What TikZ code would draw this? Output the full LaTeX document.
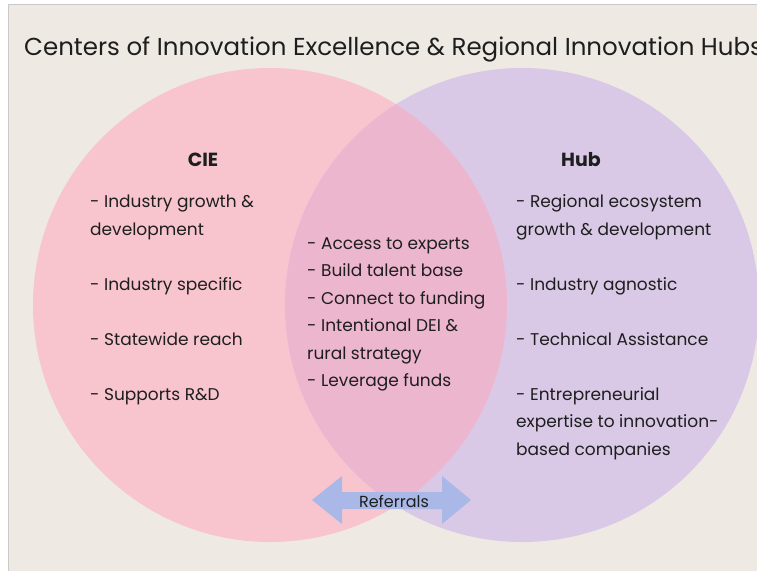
\documentclass[tikz,border=0pt]{standalone}
\usepackage{fontspec}
\setmainfont{Poppins}
\definecolor{paper}{HTML}{EEEAE3}
\definecolor{frameline}{HTML}{C9C9C9}
\definecolor{ciepink}{HTML}{F8C5CF}
\definecolor{hubpurple}{HTML}{D9C9E6}
\definecolor{overlap}{HTML}{EDB6CF}
\definecolor{refblue}{HTML}{A9B8E7}
\definecolor{ink}{HTML}{1E1E1E}
\begin{document}
\begin{tikzpicture}[x=1pt,y=-1pt,
		item/.style={anchor=base west, align=left, inner sep=0pt, text=ink,
			font=\fontsize{17}{27.5}\selectfont},
		head/.style={anchor=base, inner sep=0pt, text=ink,
			font=\fontsize{19}{22}\selectfont\bfseries}]
		\useasboundingbox (0,0) rectangle (757,571);
		\clip (0,0) rectangle (757,571);
		
		% panel
		\fill[paper] (8,4) rectangle (757,571);
		\draw[frameline, line width=1pt] (8,571) -- (8,4) -- (757,4);
		
		% circles
		\fill[ciepink] (270,305) circle (237);
		\fill[hubpurple] (522,305) circle (237);
		\begin{scope}
			\clip (270,305) circle (237);
			\fill[overlap] (522,305) circle (237);
		\end{scope}
		
		\node[anchor=base west, inner sep=0pt, text=ink,
			font=\fontsize{24.5}{28}\selectfont] (title) at (24,55)
			{Centers of Innovation Excellence \& Regional Innovation Hubs};
		
		% CIE side (base = last line)
		\node[head] (cie) at (203,166) {CIE};
		\node[item] (c1) at (90,235) {- Industry growth \&\\development};
		\node[item] (c2) at (90,290) {- Industry specific};
		\node[item] (c3) at (90,345) {- Statewide reach};
		\node[item] (c4) at (90,400) {- Supports R\&D};
		
		% shared
		\node[item] (m1) at (307,249) {- Access to experts};
		\node[item] (m2) at (307,276) {- Build talent base};
		\node[item] (m3) at (307,304) {- Connect to funding};
		\node[item] (m4) at (307,359) {- Intentional DEI \&\\rural strategy};
		\node[item] (m5) at (307,386) {- Leverage funds};
		
		% Hub side
		\node[head] (hub) at (581,166) {Hub};
		\node[item] (h1) at (516,235) {- Regional ecosystem\\growth \& development};
		\node[item] (h2) at (516,290) {- Industry agnostic};
		\node[item] (h3) at (516,345) {- Technical Assistance};
		\node[item] (h4) at (516,455) {- Entrepreneurial\\expertise to innovation-\\based companies};
		
		% referrals arrow
		\fill[refblue] (312,500) -- (342,476) -- (342,492) -- (442,492) -- (442,476)
			-- (471,500) -- (442,524) -- (442,509) -- (342,509) -- (342,524) -- cycle;
		\node[inner sep=0pt, text=ink, font=\fontsize{16}{18}\selectfont] (ref) at (394,501) {Referrals};
	\end{tikzpicture}
\end{document}
